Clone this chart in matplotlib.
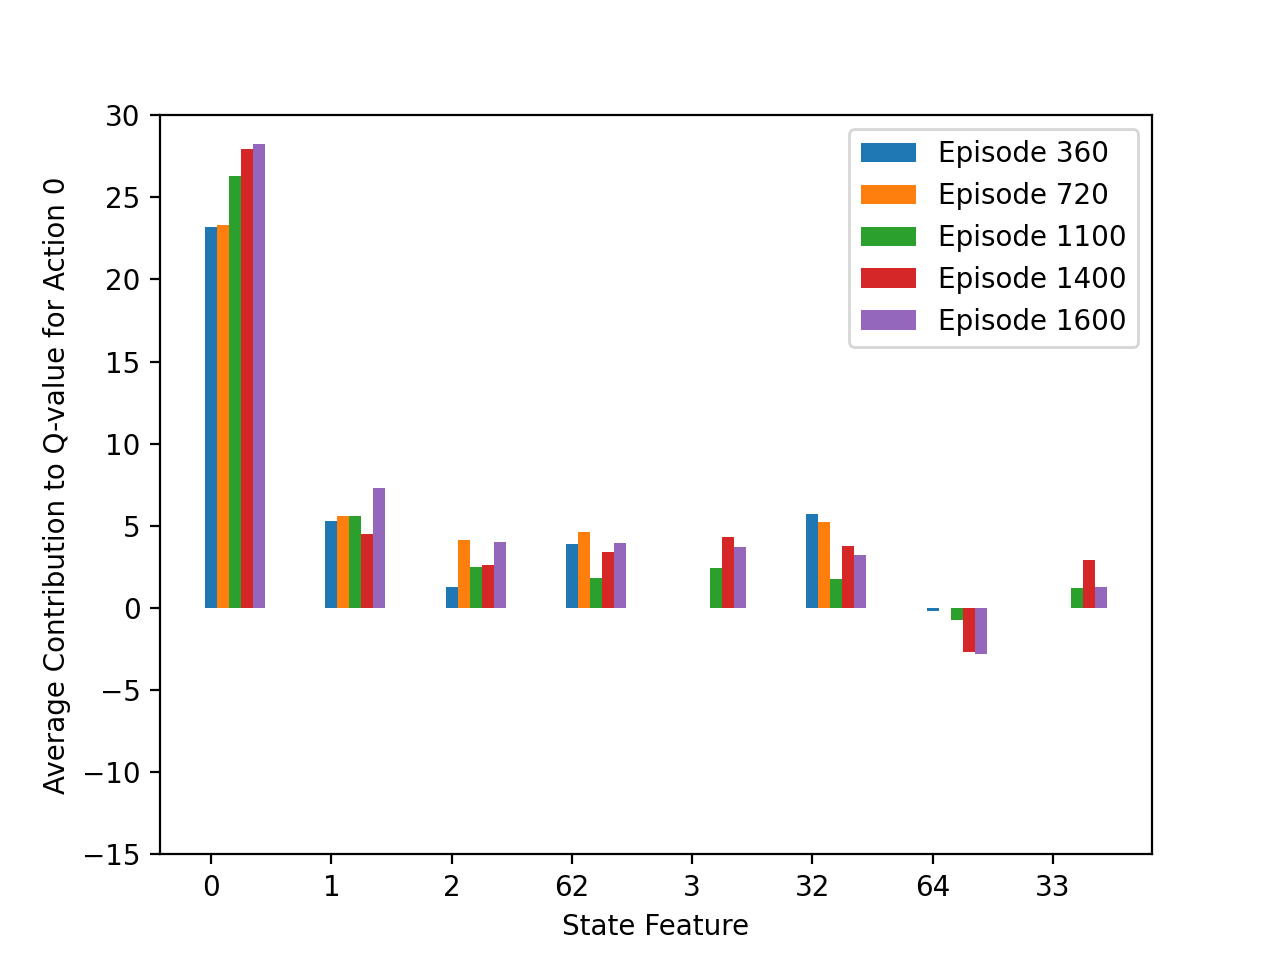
import numpy as np
import matplotlib
matplotlib.use("Agg")
import matplotlib.pyplot as plt

features = ['0', '1', '2', '62', '3', '32', '64', '33']
episodes = ['Episode 360', 'Episode 720', 'Episode 1100', 'Episode 1400', 'Episode 1600']

ep360 = [23.2, 5.28, 1.26, 3.9, 0.0, 5.72, -0.18, 0.0]
ep720 = [23.3, 5.58, 4.12, 4.63, 0.0, 5.24, 0.0, 0.0]
ep1100 = [26.3, 5.58, 2.48, 1.82, 2.44, 1.77, -0.73, 1.22]
ep1400 = [27.95, 4.49, 2.6, 3.41, 4.32, 3.78, -2.68, 2.9]
ep1600 = [28.26, 7.29, 4.0, 3.96, 3.71, 3.23, -2.8, 1.28]

series = [ep360, ep720, ep1100, ep1400, ep1600]

fig, ax = plt.subplots(figsize=(6.4, 4.8), dpi=200)
x = np.arange(len(features))
width = 0.1
for i in range(len(series)):
    ax.bar(x + i * width, series[i], width, label=episodes[i])

ax.set_xticks(x)
ax.set_xticklabels(features)
ax.set_ylim(-15, 30)
ax.set_xlabel('State Feature')
ax.set_ylabel('Average Contribution to Q-value for Action 0')
ax.legend()
fig.savefig('out.png')
